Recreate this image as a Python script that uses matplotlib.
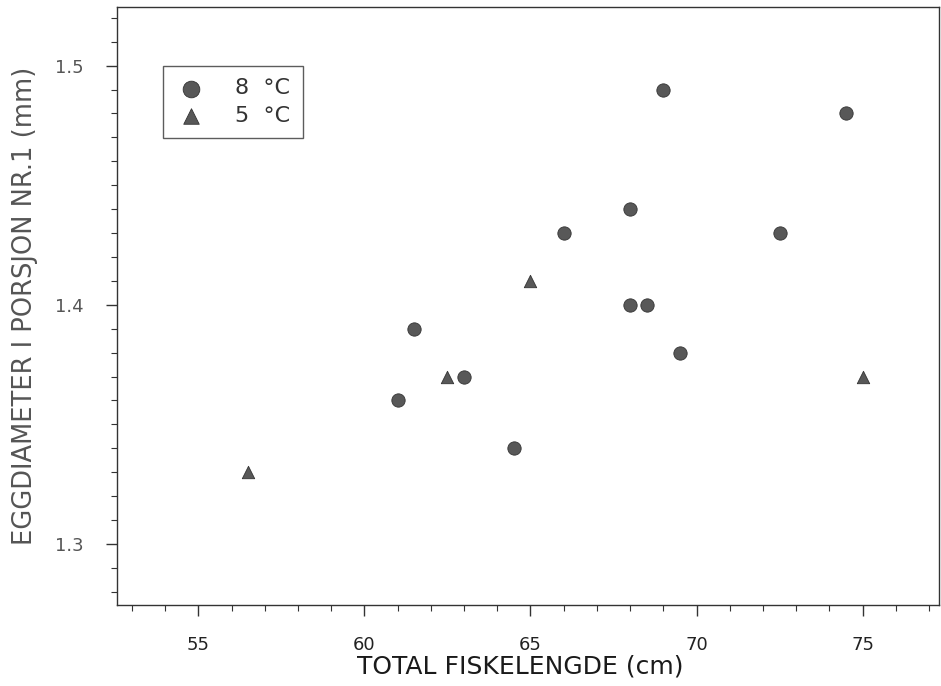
import matplotlib
matplotlib.use("Agg")
import matplotlib.pyplot as plt
from matplotlib.ticker import MultipleLocator

plt.rcParams['font.family'] = ['DejaVu Sans']

# 8 °C series
x8 = [61.0, 61.5, 63.0, 64.5, 66.0, 68.0, 68.0, 68.5, 69.0, 69.5, 72.5, 74.5]
y8 = [1.36, 1.39, 1.37, 1.34, 1.43, 1.44, 1.40, 1.40, 1.49, 1.38, 1.43, 1.48]
# 5 °C series
x5 = [56.5, 62.5, 65.0, 75.0]
y5 = [1.33, 1.37, 1.41, 1.37]

labels = ["8  °C", "5  °C"]
xticks = [55, 60, 65, 70, 75]
yticks = [1.3, 1.4, 1.5]

fig = plt.figure(figsize=(9.41, 6.86), dpi=100)
ax = fig.add_axes([117/941, 1 - 605/686, 822/941, 598/686])

mc = '#585858'
ax.scatter(x8, y8, marker='o', s=92, color=mc, edgecolors='#333333', linewidths=0.6, label=labels[0], zorder=3)
ax.scatter(x5, y5, marker='^', s=80, color=mc, edgecolors='#333333', linewidths=0.6, label=labels[1], zorder=3)

ax.set_xlim(52.55, 77.3)
ax.set_ylim(1.2745, 1.5245)
ax.set_xticks(xticks)
ax.set_yticks(yticks)
ax.set_yticklabels([f"{v:.1f}" for v in yticks])
ax.xaxis.set_minor_locator(MultipleLocator(1))
ax.yaxis.set_minor_locator(MultipleLocator(0.01))
ax.tick_params(axis='both', which='major', direction='out', length=8, width=1.0, colors='#333333', labelsize=13)
ax.tick_params(axis='both', which='minor', direction='out', length=4, width=0.8, colors='#333333')
ax.tick_params(axis='x', pad=14)
ax.tick_params(axis='y', pad=16)
for lab in ax.get_xticklabels():
    lab.set_color('#222222')
for lab in ax.get_yticklabels():
    lab.set_color('#555555')
for sp in ax.spines.values():
    sp.set_color('#333333')
    sp.set_linewidth(1.0)

ax.set_xlabel("TOTAL FISKELENGDE (cm)", fontsize=18, color='#1a1a1a')
ax.xaxis.set_label_coords(0.49, -0.082)
ax.set_ylabel("EGGDIAMETER I PORSJON NR.1 (mm)", fontsize=18.5, color='#555555', labelpad=12)

leg = ax.legend(loc='upper left', bbox_to_anchor=(0.056, 0.901), frameon=True, fancybox=False,
                edgecolor='#333333', fontsize=16, handletextpad=1.3, handlelength=1.4,
                borderpad=0.55, labelspacing=0.35, borderaxespad=0, markerscale=1.25)
leg.get_frame().set_linewidth(1.0)
for t in leg.get_texts():
    t.set_color('#333333')

fig.savefig("out.png", dpi=100)
